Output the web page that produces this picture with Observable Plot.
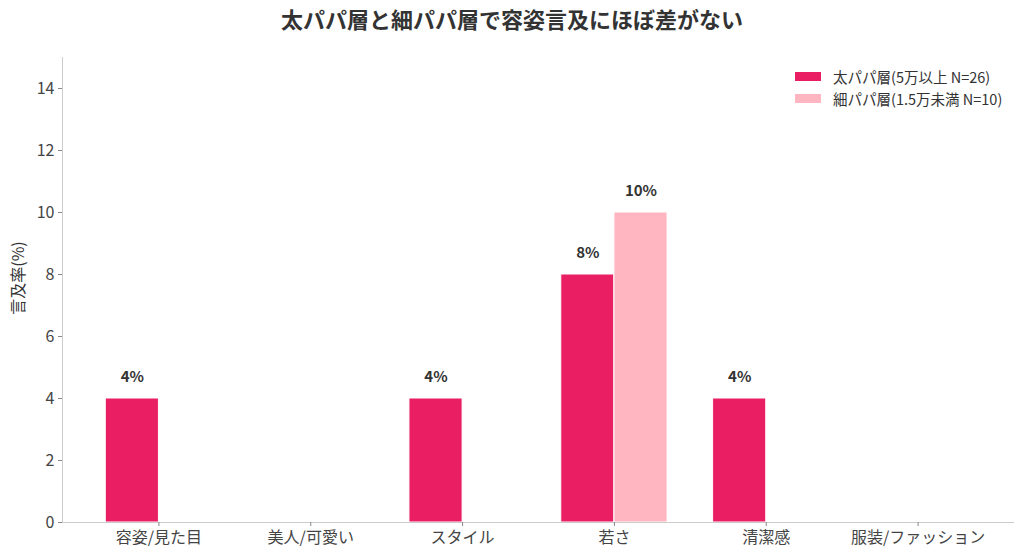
<!DOCTYPE html>
<html><head><meta charset="utf-8">
<script src="https://cdn.jsdelivr.net/npm/d3@7"></script>
<script src="https://cdn.jsdelivr.net/npm/@observablehq/plot@0.6"></script>
<style>
body{margin:0;background:#fff;font-family:"Noto Sans CJK JP","Noto Sans",sans-serif;}
#wrap{position:relative;width:1024px;height:559px;}
#title{height:40px;line-height:36px;text-align:center;font-size:22px;font-weight:bold;color:#333;}
#legend{position:absolute;left:795px;top:65px;font-size:14.5px;color:#333;}
.row{display:flex;align-items:center;height:22px;}
.sw{width:26px;height:9px;margin-right:12px;}
</style></head>
<body><div id="wrap"><div id="title">太パパ層と細パパ層で容姿言及にほぼ差がない</div><div id="legend"></div></div>
<script>
const categories = ["容姿/見た目","美人/可愛い","スタイル","若さ","清潔感","服装/ファッション"];
const seriesNames = ["太パパ層(5万以上 N=26)","細パパ層(1.5万未満 N=10)"];
const futoValues = [4,0,4,8,4,0];
const hosoValues = [0,0,0,10,0,0];
const colors = ["#E91E63","#FFB6C1"];
const yTicks = [0,2,4,6,8,10,12,14];
const barWidth = 0.35;

const rows = [];
categories.forEach((c,i)=>{
  rows.push({i, cat:c, s:0, v:futoValues[i]});
  rows.push({i, cat:c, s:1, v:hosoValues[i]});
});
rows.forEach(r=>{
  r.x1 = r.i + (r.s===0 ? -barWidth : 0);
  r.x2 = r.i + (r.s===0 ? 0 : barWidth);
  r.xc = (r.x1+r.x2)/2;
});
const labeled = rows.filter(r=>r.v>0);

const chart = Plot.plot({
  width:1024, height:519,
  marginTop:17, marginBottom:37, marginLeft:62, marginRight:10,
  style:{fontFamily:'"Noto Sans CJK JP","Noto Sans",sans-serif', fontSize:"16px", color:"#444"},
  x:{type:"linear", domain:[-0.635,5.635], label:null},
  y:{domain:[0,15], label:null},
  marks:[
    Plot.rectY(rows.filter(r=>r.v>0), {x1:"x1", x2:"x2", y1:0, y2:"v", fill:r=>colors[r.s], stroke:"white", strokeWidth:1}),
    Plot.text(labeled, {x:"xc", y:"v", text:r=>r.v+"%", lineAnchor:"bottom", dy:-17, fontWeight:"bold", fontSize:15, fill:"#333"}),
    Plot.ruleX([-0.635], {stroke:"#ccc"}),
    Plot.ruleY([0], {stroke:"#ccc"}),
    Plot.axisX({ticks:d3.range(categories.length), tickFormat:i=>categories[i], stroke:"#888", fill:"#444", fontSize:16, tickSize:4, tickPadding:5, label:null}),
    Plot.axisY({ticks:yTicks, stroke:"#888", fill:"#444", fontSize:16, tickSize:4, tickPadding:4, label:null}),
    Plot.text(["言及率(%)"], {frameAnchor:"left", textAnchor:"middle", rotate:-90, dx:-44, dy:-12, fontSize:16, fill:"#333"})
  ]
});
document.getElementById("wrap").appendChild(chart);
const lg = document.getElementById("legend");
seriesNames.forEach((n,k)=>{
  const d=document.createElement("div"); d.className="row";
  d.innerHTML=`<div class="sw" style="background:${colors[k]}"></div><span>${n}</span>`;
  lg.appendChild(d);
});
</script></body></html>
